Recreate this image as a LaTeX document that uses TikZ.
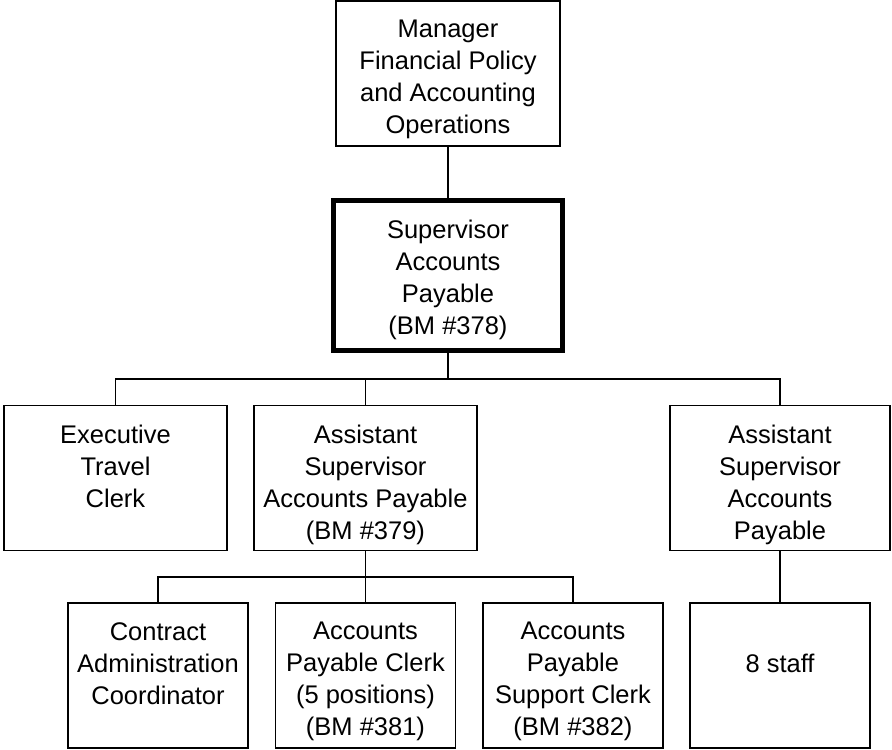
\documentclass[tikz,border=0pt]{standalone}
\usepackage{fontspec}
\setmainfont{Liberation Sans}
\usetikzlibrary{calc}
\tikzset{
  box/.style={draw,line width=1.8pt,minimum height=145pt,inner sep=0pt},
  bossbox/.style={box,line width=5pt,minimum height=150pt},
  boxtext/.style={anchor=north,align=center,inner sep=0pt,yshift=-20pt,
    font=\fontsize{25.5pt}{32pt}\selectfont},
  link/.style={line width=1.8pt}
}

\begin{document}
\begin{tikzpicture}[x=1pt,y=-1pt]
    \useasboundingbox (0,0) rectangle (892,750);

    \node[box,minimum width=224pt] (mgr) at (448,73.5) {};
    \node[boxtext] (mgr-t) at (mgr.north) {Manager\\Financial Policy\\and Accounting\\Operations};

    \node[bossbox,minimum width=229pt] (sup) at (448,275.5) {};
    \node[boxtext,yshift=-2pt] (sup-t) at (sup.north) {Supervisor\\Accounts\\Payable\\(BM \#378)};

    \foreach \n/\x/\w/\t in {exec/115.5/223/{Executive\\Travel\\Clerk},
                             asst/365.5/223/{Assistant\\Supervisor\\Accounts Payable\\(BM \#379)},
                             asst2/780/220/{Assistant\\Supervisor\\Accounts\\Payable}} {
        \node[box,minimum width=\w pt] (\n) at (\x,478) {};
        \node[boxtext] (\n-t) at (\n.north) {\t};
    }

    \foreach \n/\x/\t in {contract/158/{Contract\\Administration\\Coordinator},
                          apclerk/365.5/{Accounts\\Payable Clerk\\(5 positions)\\(BM \#381)},
                          apsupport/573/{Accounts\\Payable\\Support Clerk\\(BM \#382)}} {
        \node[box,minimum width=180pt] (\n) at (\x,675.5) {};
        \node[boxtext] (\n-t) at (\n.north) {\t};
    }

    \node[box,minimum width=180pt] (staff) at (780,675.5) {};
    \node[boxtext,yshift=-32pt] (staff-t) at (staff.north) {8 staff};

    \draw[link] (mgr.south) -- (sup.north);

    \coordinate (j1) at (sup.south |- 0,379);
    \draw[link] (sup.south) -- (j1);
    \foreach \n in {exec,asst,asst2}
        \draw[link] (j1) -| (\n.north);

    \coordinate (j2) at (asst.south |- 0,577);
    \draw[link] (asst.south) -- (j2);
    \foreach \n in {contract,apclerk,apsupport}
        \draw[link] (j2) -| (\n.north);

    \draw[link] (asst2.south) -- (staff.north);
\end{tikzpicture}
\end{document}
